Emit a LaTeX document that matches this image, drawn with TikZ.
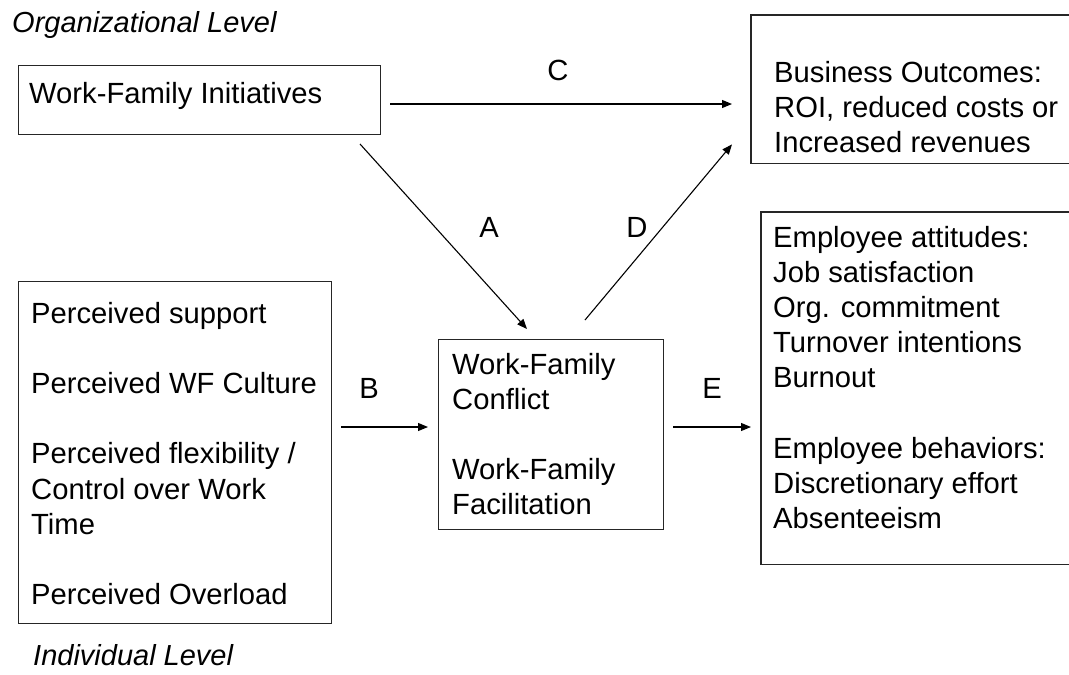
\documentclass[tikz,border=0pt]{standalone}
\usepackage{fontspec}
\setmainfont{Liberation Sans}
\usetikzlibrary{arrows.meta,calc}
\tikzset{
  box/.style={draw=black!85, line width=1.1pt, rectangle, inner sep=0pt, anchor=north west},
  openbox/.style={rectangle, inner sep=0pt, anchor=north west},
  edge3/.style={draw=black!85, line width=1.1pt},
  txt/.style={anchor=base west, inner sep=0pt, font=\fontsize{29.2}{35.2}\selectfont},
  itxt/.style={anchor=base west, inner sep=0pt, font=\fontsize{29}{35.2}\selectfont\itshape},
  lbl/.style={anchor=base, inner sep=0pt, font=\fontsize{29.2}{35.2}\selectfont},
  arr/.style={line width=1.1pt, -{Triangle[length=10pt,width=8pt]}}
}
\newcommand{\lines}[1]{\begin{tabular}[t]{@{}l@{}}#1\end{tabular}}
\begin{document}
\begin{tikzpicture}[x=1pt,y=-1pt]
\fill[white] (0,0) rectangle (1069,675);
\useasboundingbox (0,0) rectangle (1069,675);
% boxes
\node[box, minimum width=362pt, minimum height=69pt] (wfi) at (18,65) {};
\node[openbox, minimum width=318pt, minimum height=148pt] (bo) at (751,15) {};
\draw[edge3] (bo.north east) -- (bo.north west) -- (bo.south west) -- (bo.south east);
\node[box, minimum width=313pt, minimum height=342pt] (ind) at (18,281) {};
\node[box, minimum width=225pt, minimum height=190pt] (wf) at (438,339) {};
\node[openbox, minimum width=308pt, minimum height=352pt] (emp) at (761,212) {};
\draw[edge3] (emp.north east) -- (emp.north west) -- (emp.south west) -- (emp.south east);
% texts
\node[itxt] (orglvl) at (12,32) {Organizational Level};
\node[itxt] (indlvl) at (33,665) {Individual Level};
\node[txt] (wfitxt) at (29,103) {Work-Family Initiatives};
\node[txt] (botxt) at (774,82) {\lines{Business Outcomes:\\ROI, reduced costs or\\Increased revenues}};
\node[txt] (indtxt) at (31,323) {\lines{Perceived support\\ \\Perceived WF Culture\\ \\Perceived flexibility /\\Control over Work\\Time\\ \\Perceived Overload}};
\node[txt] (wftxt) at (452,374) {\lines{Work-Family\\Conflict\\ \\Work-Family\\Facilitation}};
\node[txt] (emptxt) at (773,247) {\lines{Employee attitudes:\\Job satisfaction\\Org. commitment\\Turnover intentions\\Burnout\\ \\Employee behaviors:\\Discretionary effort\\Absenteeism}};
% arrows
\draw[arr] ($(wfi.north east)+(9,39)$) -- ($(bo.north west)+(-19,89)$);
\draw[arr] ($(wfi.south east)+(-21,9)$) -- ($(wf.north west)+(89,-10)$);
\draw[arr] ($(wf.north west)+(147,-19)$) -- ($(bo.south west)+(-19,-19)$);
\draw[arr] ($(ind.north east)+(9,146)$) -- ($(wf.north west)+(-10,88)$);
\draw[arr] ($(wf.north east)+(9,88)$) -- ($(emp.north west)+(-10,215)$);
% labels
\node[lbl] (lc) at (558,80) {C};
\node[lbl] (la) at (489,237) {A};
\node[lbl] (ld) at (637,237) {D};
\node[lbl] (lb) at (369,398) {B};
\node[lbl] (le) at (712,398) {E};
\end{tikzpicture}
\end{document}
